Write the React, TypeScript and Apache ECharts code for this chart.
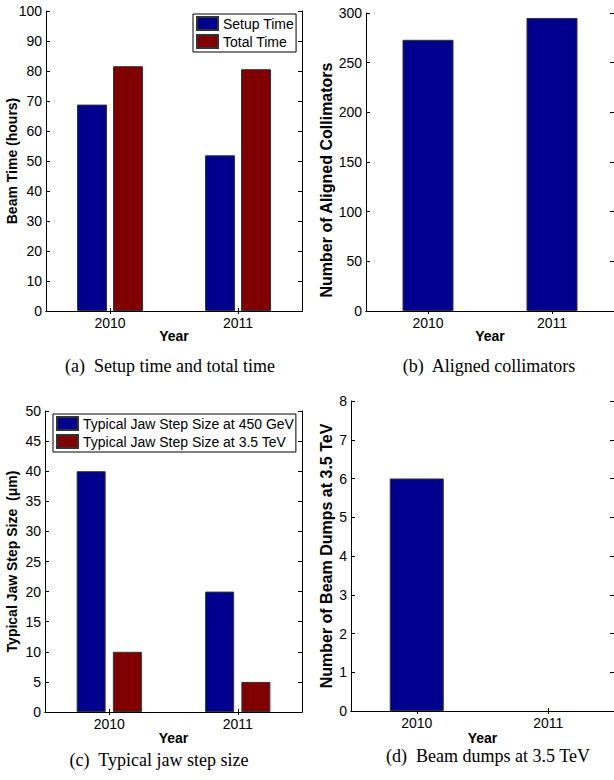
import React, { useEffect, useRef } from "react";
import * as echarts from "echarts";

const years = ["2010", "2011"];
const setupTime = [68.8, 51.9];
const totalTime = [81.6, 80.6];
const alignedCollimators = [273, 295];
const step450GeV = [40, 20];
const step35TeV = [10, 5];
const beamDumps = [6, 0];

const BLUE = "#00008f";
const RED = "#800000";
const FONT = "Liberation Sans";

type Panel = {
  left: number; top: number; width: number; height: number;
  max: number; interval: number; yName: string; yNameGap: number; yNameSize: number; yNamePad?: number[];
  xNameGap: number;
};

const panels: Panel[] = [
  { left: 46, top: 11, width: 256, height: 300, max: 100, interval: 10, yName: "Beam Time (hours)", yNameGap: 27, yNameSize: 14, xNameGap: 18 },
  { left: 366, top: 13, width: 251, height: 298, max: 300, interval: 50, yName: "Number of Aligned Collimators", yNameGap: 32, yNameSize: 16, yNamePad: [0, 36, 0, 0], xNameGap: 18 },
  { left: 45, top: 411, width: 257, height: 301, max: 50, interval: 5, yName: "Typical Jaw Step Size  (\u03bcm)", yNameGap: 26, yNameSize: 14, xNameGap: 19 },
  { left: 351, top: 401, width: 266, height: 310, max: 8, interval: 1, yName: "Number of Beam Dumps at 3.5 TeV", yNameGap: 17, yNameSize: 16, xNameGap: 20 },
];

const SP = "\u00a0 ";
const captions = [
  { text: "(a)" + SP + "Setup time and total time", x: 170, y: 366 },
  { text: "(b)" + SP + "Aligned collimators", x: 489, y: 366 },
  { text: "(c)" + SP + "Typical jaw step size", x: 159, y: 760 },
  { text: "(d)" + SP + "Beam dumps at 3.5 TeV", x: 488, y: 756 },
];

function buildOption() {
  const grid: any[] = [];
  const xAxis: any[] = [];
  const yAxis: any[] = [];
  const line = { show: true, lineStyle: { color: "#000", width: 1 } };
  panels.forEach((p, i) => {
    grid.push({ left: p.left, top: p.top, width: p.width, height: p.height, containLabel: false });
    xAxis.push({
      type: "category", gridIndex: i, data: years, position: "bottom",
      axisLine: line,
      axisTick: { show: true, inside: true, length: 3, alignWithLabel: true, lineStyle: { color: "#000" } },
      axisLabel: { color: "#000", fontFamily: FONT, fontSize: 14, margin: 5 },
      name: "Year", nameLocation: "middle", nameGap: p.xNameGap, nameMoveOverlap: false,
      nameTextStyle: { color: "#000", fontFamily: FONT, fontSize: 14, fontWeight: "bold" },
      splitLine: { show: false },
    });
    xAxis.push({
      type: "category", gridIndex: i, data: years, position: "top",
      axisLine: line,
      axisTick: { show: true, inside: true, length: 3, alignWithLabel: true, lineStyle: { color: "#000" } },
      axisLabel: { show: false },
      splitLine: { show: false },
    });
    yAxis.push({
      type: "value", gridIndex: i, min: 0, max: p.max, interval: p.interval, position: "left",
      axisLine: line,
      axisTick: { show: true, inside: true, length: 4, lineStyle: { color: "#000" } },
      axisLabel: { color: "#000", fontFamily: FONT, fontSize: 14, margin: 4 },
      splitLine: { show: false },
      name: p.yName, nameLocation: "middle", nameGap: p.yNameGap, nameRotate: 90, nameMoveOverlap: false,
      nameTextStyle: { color: "#000", fontFamily: FONT, fontSize: p.yNameSize, fontWeight: "bold", padding: p.yNamePad || 0 },
    });
    yAxis.push({
      type: "value", gridIndex: i, min: 0, max: p.max, interval: p.interval, position: "right",
      axisLine: line,
      axisTick: { show: true, inside: true, length: 4, lineStyle: { color: "#000" } },
      axisLabel: { show: false },
      splitLine: { show: false },
    });
  });

  const barStyle = (c: string) => ({ color: c, borderColor: "#333", borderWidth: 1 });
  const hideZero = (arr: number[]) => arr.map((v) => (v === 0 ? { value: v, itemStyle: { borderWidth: 0 } } : v));
  const series: any[] = [
    { name: "Setup Time", type: "bar", xAxisIndex: 0, yAxisIndex: 0, data: setupTime, barWidth: 30, barGap: "20%", itemStyle: barStyle(BLUE) },
    { name: "Total Time", type: "bar", xAxisIndex: 0, yAxisIndex: 0, data: totalTime, barWidth: 30, barGap: "20%", itemStyle: barStyle(RED) },
    { name: "Aligned Collimators", type: "bar", xAxisIndex: 2, yAxisIndex: 2, data: alignedCollimators, barWidth: 51, itemStyle: barStyle(BLUE) },
    { name: "Typical Jaw Step Size at 450 GeV", type: "bar", xAxisIndex: 4, yAxisIndex: 4, data: step450GeV, barWidth: 29, barGap: "25%", itemStyle: barStyle(BLUE) },
    { name: "Typical Jaw Step Size at 3.5 TeV", type: "bar", xAxisIndex: 4, yAxisIndex: 4, data: step35TeV, barWidth: 29, barGap: "25%", itemStyle: barStyle(RED) },
    { name: "Beam Dumps", type: "bar", xAxisIndex: 6, yAxisIndex: 6, data: hideZero(beamDumps), barWidth: 54, itemStyle: barStyle(BLUE) },
  ];

  const legendBase = {
    orient: "vertical", icon: "rect", itemWidth: 21, itemHeight: 13, itemGap: 3,
    padding: [2, 2, 3, 3], backgroundColor: "#fff", borderColor: "#000", borderWidth: 1, borderRadius: 0,
    textStyle: { color: "#000", fontFamily: FONT, fontSize: 14, lineHeight: 15 },
    selectedMode: false,
  };
  const legend = [
    { ...legendBase, data: ["Setup Time", "Total Time"], left: 193, top: 14 },
    { ...legendBase, data: ["Typical Jaw Step Size at 450 GeV", "Typical Jaw Step Size at 3.5 TeV"], left: 53, top: 414 },
  ];

  const graphic = captions.map((c) => ({
    type: "text", x: c.x, y: c.y,
    style: { text: c.text, fontFamily: "Liberation Serif", fontSize: 18, fill: "#000", align: "center", verticalAlign: "middle" },
  }));

  return { animation: false, backgroundColor: "#fff", grid, xAxis, yAxis, series, legend, graphic };
}

export default function App() {
  const ref = useRef<HTMLDivElement>(null);
  useEffect(() => {
    if (!ref.current) return;
    const chart = echarts.init(ref.current, undefined, { renderer: "svg" });
    chart.setOption(buildOption() as any);
    return () => chart.dispose();
  }, []);
  return <div ref={ref} style={{ position: "absolute", left: 0, top: 0, width: 614, height: 780 }} />;
}
